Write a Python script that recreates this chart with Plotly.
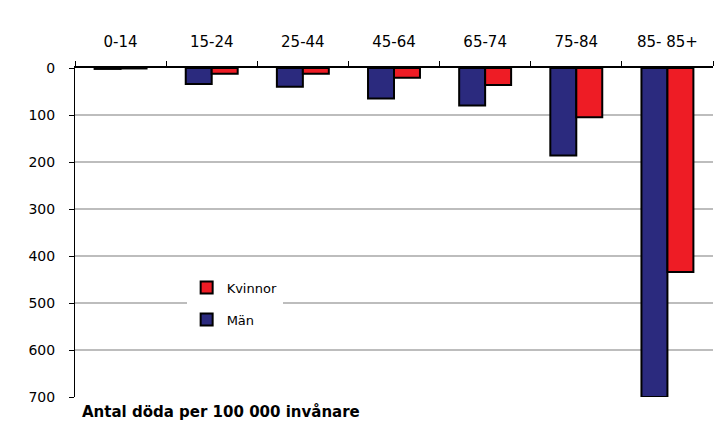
import plotly.graph_objects as go

categories = ["0-14", "15-24", "25-44", "45-64", "65-74", "75-84", "85- 85+"]
man = [2, 34, 40, 65, 80, 186, 700]
kvinnor = [1, 12, 12, 21, 36, 105, 434]
y_ticks = [0, 100, 200, 300, 400, 500, 600, 700]

fig = go.Figure()
fig.add_trace(go.Bar(x=categories, y=man, name="Män",
                     marker=dict(color="#2B2A7E", line=dict(color="black", width=2)),
                     legendgroup="m", legendrank=2))
fig.add_trace(go.Bar(x=categories, y=kvinnor, name="Kvinnor",
                     marker=dict(color="#EE1C25", line=dict(color="black", width=2)),
                     legendgroup="k", legendrank=1))

fig.update_layout(
    width=718, height=436,
    margin=dict(l=75, r=5, t=68, b=39),
    paper_bgcolor="white", plot_bgcolor="white",
    barmode="group", bargap=0.43, bargroupgap=0,
    font=dict(family="DejaVu Sans", size=14, color="black"),
    showlegend=True,
    legend=dict(x=0.175, y=0.378, xanchor="left", yanchor="top", bgcolor="white",
                traceorder="grouped", tracegroupgap=12,
                font=dict(size=13), itemwidth=30),
    xaxis=dict(side="top", showline=True, linecolor="black", linewidth=1.5,
               ticks="outside", tickson="boundaries", ticklen=5, tickcolor="black",
               ticklabelstandoff=13, showgrid=False, fixedrange=True,
               tickfont=dict(size=15)),
    yaxis=dict(range=[700, 0], tickvals=y_ticks, showgrid=True, gridcolor="#BDBDBD",
               gridwidth=1.5, zeroline=False, showline=True, linecolor="black", linewidth=1,
               ticks="outside", ticklen=5, tickcolor="black", ticklabelstandoff=11,
               tickfont=dict(size=14)),
    annotations=[dict(text="<b>Antal döda per 100 000 invånare</b>",
                      x=(80 - 75) / 638, y=-(412 - 397) / 329,
                      xref="paper", yref="paper", xanchor="left", yanchor="middle",
                      showarrow=False, font=dict(size=15))],
)

fig.write_html("out.html")
